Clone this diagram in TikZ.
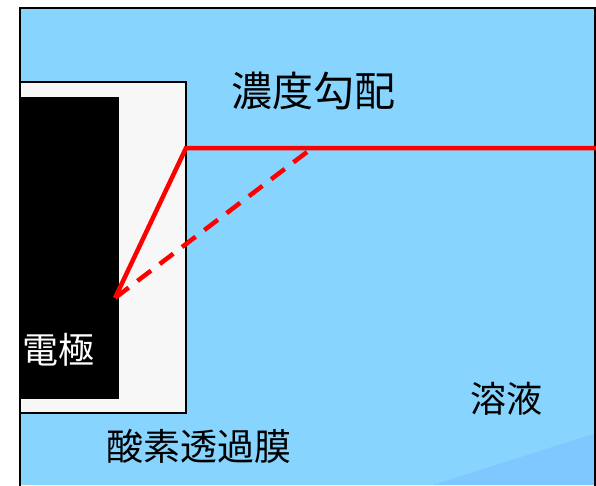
\documentclass[tikz,border=0pt]{standalone}
\usepackage{fontspec}
\newfontfamily\cjk{Noto Sans CJK JP}
\definecolor{solblue}{HTML}{87D5FF}
\definecolor{solblue2}{HTML}{7FC8FF}
\definecolor{membr}{HTML}{F7F7F7}
\tikzset{
  lbl/.style={inner sep=0pt, font=\cjk, text height=0.88em, text depth=0.12em},
  redline/.style={red, line width=4.5pt, line join=miter},
}
\begin{document}
\begin{tikzpicture}[x=1pt,y=-1pt]
\useasboundingbox (0,0) rectangle (596,485);
% solution
\fill[solblue] (20,8) rectangle (596,485);
\fill[solblue2] (433,485) -- (596,433) -- (596,485) -- cycle;
\draw[line width=2pt] (20,490) -- (20,8) -- (595,8) -- (595,490);
% membrane
\draw[fill=membr, line width=1.5pt] (20,82) rectangle (186,413);
% electrode
\fill[black] (20,97) rectangle (119,399);
% coordinates
\coordinate (e) at (115,298);
\coordinate (m) at (186,148);
\coordinate (r) at (596,148);
\coordinate (d) at (307,152);
\draw[redline] (e) -- (m) -- (r);
\draw[redline, dash pattern=on 17pt off 11pt] (d) -- (e);
% labels
\node[lbl, font=\cjk\fontsize{41}{41}\selectfont] (grad) at (313,103) {濃度勾配};
\node[lbl, white, font=\cjk\fontsize{36}{36}\selectfont] (elec) at (58,360) {電極};
\node[lbl, font=\cjk\fontsize{37}{37}\selectfont] (mem) at (199,457) {酸素透過膜};
\node[lbl, font=\cjk\fontsize{36}{36}\selectfont] (sol) at (506,409) {溶液};
\end{tikzpicture}
\end{document}
